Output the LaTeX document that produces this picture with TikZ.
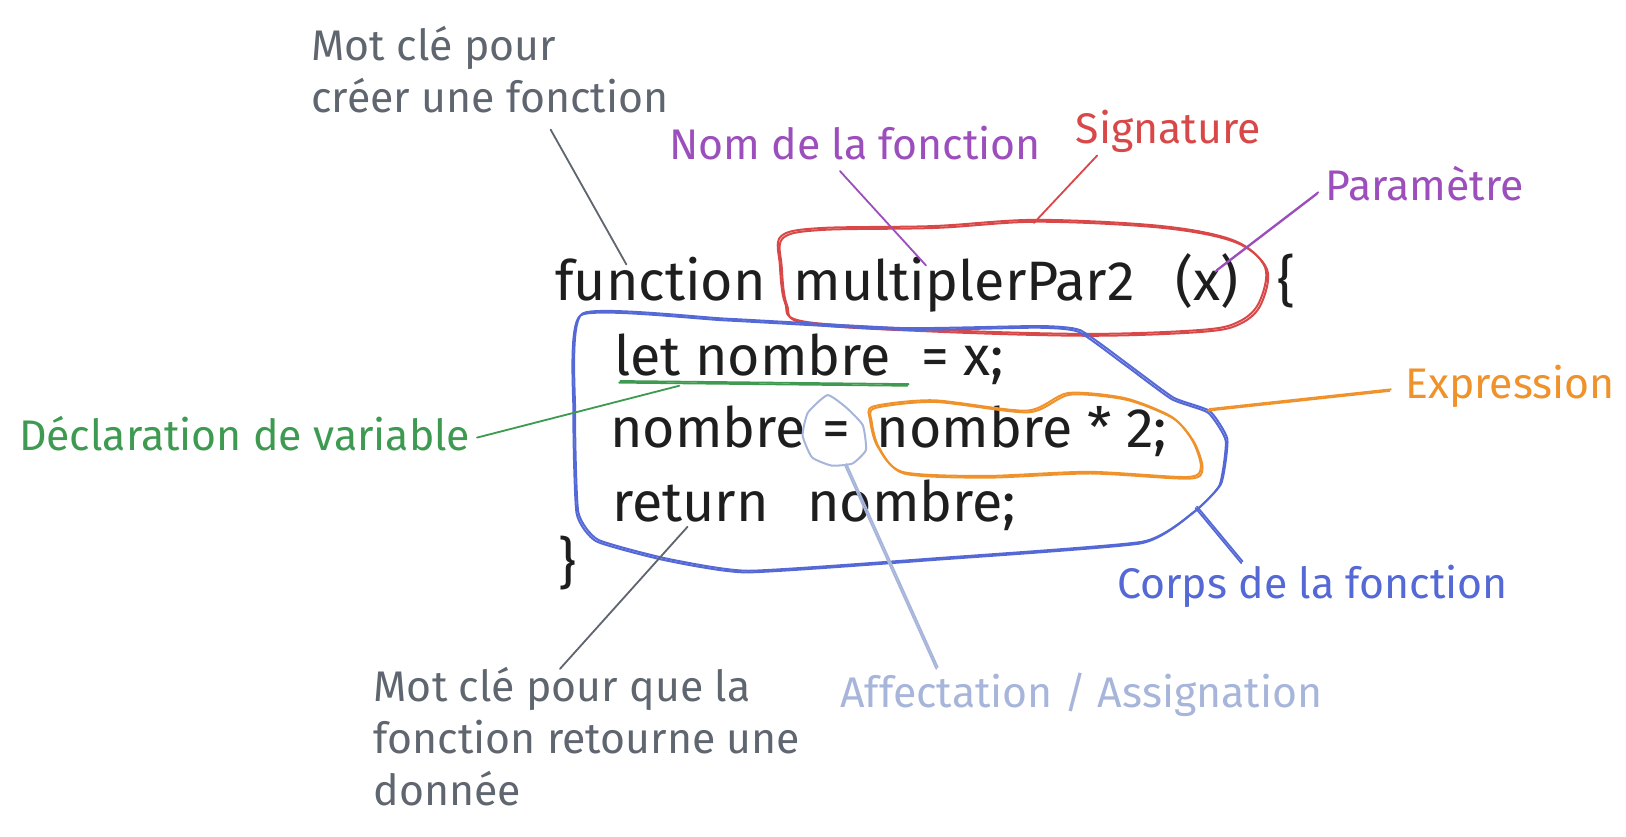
\documentclass[tikz,border=0pt]{standalone}
\usepackage{fontspec}
\setmainfont{Fira Sans}

\definecolor{ink}{HTML}{1E1E1E}
\definecolor{kwgray}{HTML}{5F6670}
\definecolor{namepurple}{HTML}{9C4FBC}
\definecolor{sigred}{HTML}{D94848}
\definecolor{declgreen}{HTML}{3D9A50}
\definecolor{exprorange}{HTML}{F0922B}
\definecolor{bodyblue}{HTML}{5468D6}
\definecolor{assignblue}{HTML}{A6B5D9}

\tikzset{
  lbl/.style={inner sep=0pt, anchor=west, align=left, font=\fontsize{23.5}{28.5}\selectfont},
  code/.style={inner sep=0pt, anchor=base west, text=ink, font=\fontsize{30.5}{36}\selectfont},
  sketch/.style={line width=1.1pt, line join=round, line cap=round},
  lead/.style={line width=1pt, line cap=round},
  twice/.style={transform canvas={shift={(0.7pt,0.9pt)}}},
}

\begin{document}
\begin{tikzpicture}[x=0.02cm,y=-0.02cm]
\useasboundingbox (0,0) rectangle (1568,807);

% code
\node[code] (fn) at (535,290) {function};
\node[code] (fname) at (765,290) {multiplerPar2};
\node[code] (param) at (1133,290) {(x)};
\node[code] (obrace) at (1232,290) {\{};
\node[code] (letdecl) at (592,362) {let nombre};
\node[code] (letrest) at (888,362) {= x;};
\node[code] (lhs) at (588,432) {nombre};
\node[code] (eq) at (793,432) {=};
\node[code] (expr) at (845,432) {nombre * 2;};
\node[code] (ret) at (590,503) {return};
\node[code] (retval) at (778,503) {nombre;};
\node[code] (cbrace) at (538,562) {\}};

% labels
\node[lbl, text=kwgray] (kwfn) at (300,67) {Mot clé pour\\créer une fonction};
\node[lbl, text=namepurple] (namelbl) at (645,138) {Nom de la fonction};
\node[lbl, text=sigred] (siglbl) at (1037,127) {Signature};
\node[lbl, text=namepurple] (paramlbl) at (1278,177) {Paramètre};
\node[lbl, text=exprorange] (exprlbl) at (1355,373) {Expression};
\node[lbl, text=declgreen] (decllbl) at (18,418) {Déclaration de variable};
\node[lbl, text=bodyblue] (bodylbl) at (1077,565) {Corps de la fonction};
\node[lbl, text=assignblue] (assignlbl) at (810,670) {Affectation / Assignation};
\node[lbl, text=kwgray] (kwret) at (360,710) {Mot clé pour que la\\fonction retourne une\\donnée};

% signature
\foreach \s in {0,1.8}
  \draw[sketch, sigred, shift={(\s,\s)}] plot[smooth cycle, tension=0.55] coordinates {
    (753,228) (790,220) (900,218) (1000,212) (1120,218) (1190,232) (1220,258)
    (1214,292) (1195,310) (1160,318) (1050,322) (900,318) (775,310) (757,292) (752,255)};

% body
\foreach \s in {0,1.6}
  \draw[sketch, bodyblue, shift={(\s,-\s)}] plot[smooth cycle, tension=0.3] coordinates {
    (560,304) (700,309) (870,318) (1000,316) (1040,320) (1085,352) (1130,385)
    (1165,398) (1182,425) (1176,468) (1150,495) (1100,524) (900,540) (720,552)
    (640,540) (575,522) (556,495) (553,400)};

% expression
\foreach \s in {0,1.6}
  \draw[sketch, exprorange, shift={(\s,\s)}] plot[smooth cycle, tension=0.45] coordinates {
    (842,392) (900,386) (990,396) (1030,379) (1085,384) (1130,402) (1150,425)
    (1158,450) (1145,460) (1050,455) (950,459) (870,455) (846,430) (839,405)};

% affectation
\draw[sketch, assignblue] plot[smooth cycle, tension=0.3] coordinates {
  (798,381) (816,393) (832,410) (835,434) (822,447) (802,449) (783,441) (774,420) (779,398)};

% underline
\coordinate (ulA) at (597,369);
\coordinate (ulB) at (875,372);
\draw[lead, declgreen] (ulA) -- (ulB);
\draw[lead, declgreen, twice] (ulA) -- (ulB);

% leaders
\coordinate (kwfnA) at (531,125);
\coordinate (kwfnB) at (604,255);
\draw[lead, kwgray] (kwfnA) -- (kwfnB);

\coordinate (nameA) at (810,165);
\coordinate (nameB) at (893,256);
\draw[lead, namepurple] (nameA) -- (nameB);

\coordinate (sigA) at (1058,150);
\coordinate (sigB) at (997,215);
\draw[lead, sigred] (sigA) -- (sigB);

\coordinate (paramA) at (1270,187);
\coordinate (paramB) at (1172,262);
\draw[lead, namepurple] (paramA) -- (paramB);
\draw[lead, namepurple, twice] (paramA) -- (paramB);

\coordinate (declA) at (655,372);
\coordinate (declB) at (460,422);
\draw[lead, declgreen] (declA) -- (declB);

\coordinate (assignA) at (815,449);
\coordinate (assignB) at (903,645);
\draw[lead, assignblue] (assignA) -- (assignB);
\draw[lead, assignblue, twice] (assignA) -- (assignB);

\coordinate (exprA) at (1165,396);
\coordinate (exprB) at (1340,377);
\draw[lead, exprorange] (exprA) -- (exprB);
\draw[lead, exprorange, twice] (exprA) -- (exprB);

\coordinate (bodyA) at (1153,490);
\coordinate (bodyB) at (1197,543);
\draw[lead, bodyblue] (bodyA) -- (bodyB);
\draw[lead, bodyblue, twice] (bodyA) -- (bodyB);

\coordinate (retA) at (663,508);
\coordinate (retB) at (540,645);
\draw[lead, kwgray] (retA) -- (retB);
\end{tikzpicture}
\end{document}
